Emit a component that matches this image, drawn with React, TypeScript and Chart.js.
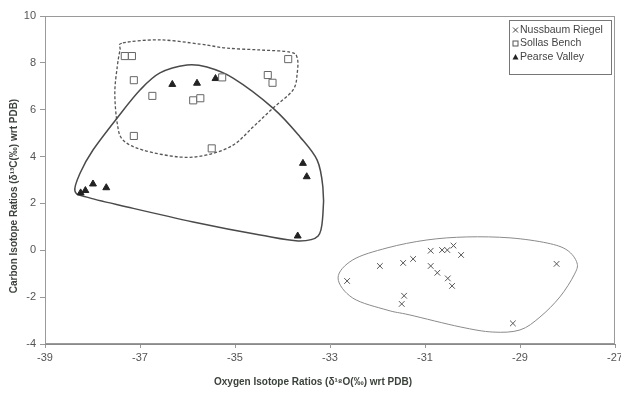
import React, { useEffect, useRef } from 'react';
import { Chart, registerables } from 'chart.js';

Chart.register(...registerables);

// Axis ticks
const xTicks = [-39, -37, -35, -33, -31, -29, -27];
const yTicks = [-4, -2, 0, 2, 4, 6, 8, 10];

// Series labels
const seriesLabels = ['Nussbaum Riegel', 'Sollas Bench', 'Pearse Valley'];
const xTitle = 'Oxygen Isotope Ratios (\u03b4\u00b9\u2078O(\u2030) wrt PDB)';
const yTitle = 'Carbon Isotope Ratios (\u03b4\u00b9\u00b3C(\u2030) wrt PDB)';

// Nussbaum Riegel
const nussbaumX = [-32.64, -31.95, -31.46, -31.25, -30.88, -30.64, -30.53, -30.40, -30.24, -30.88, -30.74, -30.52, -30.43, -31.44, -31.49, -28.23, -29.15];
const nussbaumY = [-1.31, -0.67, -0.54, -0.37, -0.02, 0.01, 0.01, 0.20, -0.20, -0.67, -0.96, -1.20, -1.52, -1.94, -2.29, -0.58, -3.12];

// Sollas Bench
const sollasX = [-37.32, -37.17, -37.13, -36.74, -35.88, -35.73, -35.27, -34.31, -34.21, -33.88, -37.13, -35.49];
const sollasY = [8.29, 8.29, 7.26, 6.59, 6.40, 6.49, 7.38, 7.48, 7.15, 8.16, 4.88, 4.35];

// Pearse Valley
const pearseX = [-36.32, -35.80, -35.41, -33.57, -33.49, -37.99, -37.71, -38.25, -38.15, -33.68];
const pearseY = [7.08, 7.13, 7.33, 3.71, 3.14, 2.83, 2.67, 2.45, 2.55, 0.61];

// Hand-drawn envelopes (data space)
const pearseHullX = [-38.37, -38.26, -37.99, -37.48, -37.00, -36.58, -36.01, -35.59, -35.04, -34.20, -33.63, -33.27, -33.15, -33.15, -33.25, -33.67, -34.47, -35.88, -37.27, -38.12];
const pearseHullY = [2.53, 3.30, 4.28, 5.65, 6.84, 7.57, 7.91, 7.82, 7.35, 6.07, 4.84, 3.85, 2.70, 1.51, 0.61, 0.40, 0.65, 1.21, 1.85, 2.27];

const sollasHullX = [-37.36, -36.58, -35.74, -35.17, -34.47, -33.84, -33.69, -33.69, -33.78, -34.20, -34.62, -35.04, -35.59, -36.16, -36.94, -37.36, -37.48, -37.53, -37.48, -37.42];
const sollasHullY = [8.85, 8.98, 8.80, 8.63, 8.55, 8.46, 8.21, 7.57, 6.84, 6.07, 5.26, 4.49, 4.07, 3.98, 4.28, 4.71, 5.43, 6.71, 7.82, 8.55];

const nussbaumHullX = [-32.83, -32.52, -31.80, -30.96, -30.12, -29.21, -28.43, -28.01, -27.80, -27.86, -28.16, -28.58, -29.00, -29.57, -30.26, -31.32, -31.80, -32.52];
const nussbaumHullY = [-1.18, -0.41, 0.10, 0.44, 0.57, 0.53, 0.31, 0.01, -0.54, -1.05, -1.99, -2.85, -3.40, -3.49, -3.27, -2.76, -2.55, -2.04];

const zip = (xs: number[], ys: number[]) => xs.map((x, i) => ({ x, y: ys[i] }));

function closedSpline(ctx: CanvasRenderingContext2D, pts: { x: number; y: number }[]) {
  const n = pts.length;
  ctx.beginPath();
  ctx.moveTo(pts[0].x, pts[0].y);
  for (let i = 0; i < n; i++) {
    const p0 = pts[(i - 1 + n) % n];
    const p1 = pts[i];
    const p2 = pts[(i + 1) % n];
    const p3 = pts[(i + 2) % n];
    ctx.bezierCurveTo(
      p1.x + (p2.x - p0.x) / 6, p1.y + (p2.y - p0.y) / 6,
      p2.x - (p3.x - p1.x) / 6, p2.y - (p3.y - p1.y) / 6,
      p2.x, p2.y
    );
  }
  ctx.closePath();
  ctx.stroke();
}

const envelopePlugin = {
  id: 'envelopes',
  beforeDatasetsDraw(chart: any) {
    const { ctx, scales, chartArea } = chart;
    const toPx = (xs: number[], ys: number[]) => xs.map((x, i) => ({ x: scales.x.getPixelForValue(x), y: scales.y.getPixelForValue(ys[i]) }));
    ctx.save();
    // frame
    ctx.strokeStyle = '#9a9a9a';
    ctx.lineWidth = 1;
    ctx.strokeRect(chartArea.left + 0.5, chartArea.top + 0.5, chartArea.right - chartArea.left - 1, chartArea.bottom - chartArea.top - 1);
    // Sollas dashed
    ctx.strokeStyle = '#555';
    ctx.lineWidth = 1.3;
    ctx.setLineDash([3, 2]);
    closedSpline(ctx, toPx(sollasHullX, sollasHullY));
    ctx.setLineDash([]);
    // Pearse solid
    ctx.strokeStyle = '#4a4a4a';
    ctx.lineWidth = 1.5;
    closedSpline(ctx, toPx(pearseHullX, pearseHullY));
    // Nussbaum thin
    ctx.strokeStyle = '#8a8a8a';
    ctx.lineWidth = 1;
    closedSpline(ctx, toPx(nussbaumHullX, nussbaumHullY));
    ctx.restore();
  },
  afterDraw(chart: any) {
    const { ctx } = chart;
    ctx.save();
    // axis titles
    ctx.fillStyle = '#3b413b';
    ctx.font = 'bold 10px "Liberation Sans", Arial, sans-serif';
    ctx.textAlign = 'center';
    ctx.textBaseline = 'middle';
    ctx.fillText(xTitle, 313, 382);
    ctx.save();
    ctx.translate(14, 196);
    ctx.rotate(-Math.PI / 2);
    ctx.fillText(yTitle, 0, 0);
    ctx.restore();

    // legend
    const L = 509, T = 20, R = 612, B = 75;
    ctx.fillStyle = '#fff';
    ctx.fillRect(L, T, R - L, B - T);
    ctx.strokeStyle = '#777';
    ctx.lineWidth = 1;
    ctx.strokeRect(L + 0.5, T + 0.5, R - L - 1, B - T - 1);
    const rows = [30, 43.5, 57];
    ctx.font = '10.5px "Liberation Sans", Arial, sans-serif';
    ctx.textAlign = 'left';
    ctx.textBaseline = 'middle';
    chart.data.datasets.forEach((ds: any, i: number) => {
      const cx = 515.5, cy = rows[i];
      ctx.strokeStyle = '#444';
      ctx.fillStyle = '#222';
      ctx.lineWidth = 1;
      if (ds.pointStyle === 'crossRot') {
        ctx.beginPath();
        ctx.moveTo(cx - 2.5, cy - 2.5); ctx.lineTo(cx + 2.5, cy + 2.5);
        ctx.moveTo(cx + 2.5, cy - 2.5); ctx.lineTo(cx - 2.5, cy + 2.5);
        ctx.stroke();
      } else if (ds.pointStyle === 'rect') {
        ctx.strokeStyle = '#555';
        ctx.strokeRect(cx - 2.5, cy - 2.5, 5, 5);
      } else {
        ctx.beginPath();
        ctx.moveTo(cx, cy - 3); ctx.lineTo(cx + 3, cy + 2.5); ctx.lineTo(cx - 3, cy + 2.5);
        ctx.closePath();
        ctx.fill();
      }
      ctx.fillStyle = '#444';
      ctx.fillText(ds.label, 520, cy);
    });
    ctx.restore();
  },
};

export default function App() {
  const ref = useRef<HTMLCanvasElement | null>(null);
  useEffect(() => {
    if (!ref.current) return;
    Chart.defaults.font.family = '"Liberation Sans", Arial, sans-serif';
    const chart = new Chart(ref.current, {
      type: 'scatter',
      data: {
        datasets: [
          {
            label: seriesLabels[0],
            data: zip(nussbaumX, nussbaumY),
            pointStyle: 'crossRot',
            pointRadius: 4,
            borderColor: '#555',
            backgroundColor: '#555',
            borderWidth: 1,
          },
          {
            label: seriesLabels[1],
            data: zip(sollasX, sollasY),
            pointStyle: 'rect',
            pointRadius: 5,
            borderColor: '#666',
            backgroundColor: '#fff',
            borderWidth: 1,
          },
          {
            label: seriesLabels[2],
            data: zip(pearseX, pearseY),
            pointStyle: 'triangle',
            pointRadius: 4,
            borderColor: '#222',
            backgroundColor: '#222',
            borderWidth: 1,
          },
        ],
      },
      options: {
        animation: false,
        responsive: false,
        maintainAspectRatio: false,
        layout: { padding: { left: 0, right: 6, top: 16, bottom: 0 } },
        plugins: { legend: { display: false }, tooltip: { enabled: false } },
        scales: {
          x: {
            type: 'linear',
            min: -39,
            max: -27,
            afterBuildTicks: (s: any) => { s.ticks = xTicks.map((v) => ({ value: v })); },
            afterFit: (s: any) => { s.height = 50; s.paddingLeft = 0; s.paddingRight = 0; },
            ticks: { color: '#555', font: { size: 11 }, padding: 3, maxRotation: 0 },
            grid: { display: true, drawOnChartArea: false, drawTicks: true, tickLength: 4, color: '#999' },
            border: { display: true, color: '#8a8a8a' },
          },
          y: {
            type: 'linear',
            min: -4,
            max: 10,
            afterBuildTicks: (s: any) => { s.ticks = yTicks.map((v) => ({ value: v })); },
            afterFit: (s: any) => { s.width = 45; s.paddingTop = 0; s.paddingBottom = 0; },
            ticks: { color: '#555', font: { size: 11 }, padding: 4 },
            grid: { display: true, drawOnChartArea: false, drawTicks: true, tickLength: 5, color: '#999' },
            border: { display: true, color: '#8a8a8a' },
          },
        },
      },
      plugins: [envelopePlugin],
    });
    return () => chart.destroy();
  }, []);
  return (
    <div style={{ position: 'absolute', left: 0, top: 0, width: 621, height: 394, background: '#fff' }}>
      <canvas ref={ref} width={621} height={394} style={{ display: 'block' }} />
    </div>
  );
}
